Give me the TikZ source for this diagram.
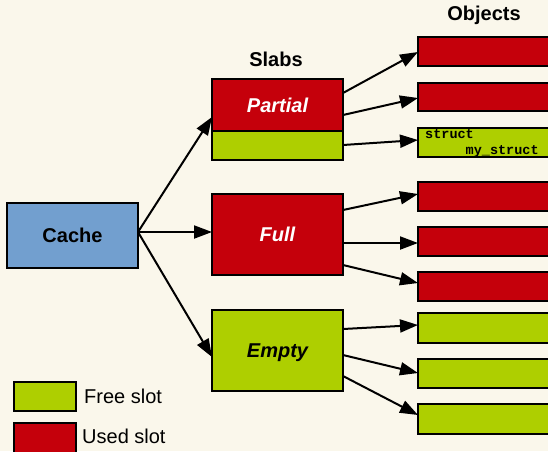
\documentclass[tikz,border=0pt]{standalone}
\usepackage{fontspec}
\setmainfont{Liberation Sans}
\newfontfamily\codefont{Liberation Mono}
\usetikzlibrary{arrows.meta,calc}

\definecolor{bgcream}{HTML}{FAF7EB}
\definecolor{usedred}{HTML}{C5000B}
\definecolor{freegreen}{HTML}{AECF00}
\definecolor{cacheblue}{HTML}{729FCF}

\tikzset{
  box/.style={draw=black, line width=2pt, anchor=north west, inner sep=0pt, outer sep=0pt},
  used/.style={box, fill=usedred},
  free/.style={box, fill=freegreen},
  slabtext/.style={font=\bfseries\itshape\fontsize{20}{24}\selectfont, text depth=0pt, text height=14.5pt},
  heading/.style={font=\bfseries\fontsize{20}{24}\selectfont},
  legendtext/.style={font=\fontsize{20}{24}\selectfont, anchor=west, inner sep=0pt},
  link/.style={draw=black, line width=2pt, -{Triangle[length=18pt,width=13pt]}},
}

\begin{document}
\begin{tikzpicture}[x=1pt,y=-1pt]
  \useasboundingbox (0,0) rectangle (548,451);
  \fill[bgcream] (0,0) rectangle (548,451);
  \clip (0,0) rectangle (548,451);

  % cache
  \node[box, fill=cacheblue, minimum width=131pt, minimum height=65pt,
        font=\bfseries\fontsize{20}{24}\selectfont] (cache) at (7,203) {Cache};

  % slabs
  \node[heading] (slabs) at (276,59) {Slabs};
  \node[used, minimum width=131pt, minimum height=52pt, slabtext, text=white] (partial) at (212,79) {Partial};
  \node[free, minimum width=131pt, minimum height=29pt] (partialfree) at (212,131) {};
  \node[used, minimum width=131pt, minimum height=81pt, slabtext, text=white] (full) at (212,194) {Full};
  \node[free, minimum width=131pt, minimum height=81pt, slabtext] (empty) at (212,310) {Empty};

  % objects
  \node[heading] (objects) at (484,15) {Objects};
  \node[used, minimum width=150pt, minimum height=29pt] (obj1) at (418,37) {};
  \node[used, minimum width=150pt, minimum height=28pt] (obj2) at (418,83) {};
  \node[free, minimum width=150pt, minimum height=29pt] (obj3) at (418,128) {};
  \node[font=\codefont\bfseries\fontsize{13.5}{16}\selectfont, anchor=north west, inner sep=0pt,
        align=left] (structlabel) at (425,129)
        {struct\\\hspace*{5\fontcharwd\font`m}my\_struct};
  \node[used, minimum width=150pt, minimum height=29pt] (obj4) at (418,182) {};
  \node[used, minimum width=150pt, minimum height=29pt] (obj5) at (418,227) {};
  \node[used, minimum width=150pt, minimum height=29pt] (obj6) at (418,272) {};
  \node[free, minimum width=150pt, minimum height=30pt] (obj7) at (418,313) {};
  \node[free, minimum width=150pt, minimum height=29pt] (obj8) at (418,359) {};
  \node[free, minimum width=150pt, minimum height=30pt] (obj9) at (418,404) {};

  % legend
  \node[free, minimum width=62pt, minimum height=29pt] (freekey) at (14,382) {};
  \node[legendtext] (freetext) at (84,396) {Free slot};
  \node[used, minimum width=62pt, minimum height=32pt] (usedkey) at (14,423) {};
  \node[legendtext] (usedtext) at (82,436) {Used slot};

  % cache to slabs
  \draw[link] ($(cache.north east)+(0,29)$) -- ($(partial.north west)+(0,38)$);
  \draw[link] ($(cache.north east)+(0,29)$) -- ($(full.north west)+(0,38)$);
  \draw[link] ($(cache.north east)+(0,29)$) -- ($(empty.north west)+(0,47)$);

  % slabs to objects
  \draw[link] ($(partial.north east)+(0,14)$) -- ($(obj1.north west)+(0,15)$);
  \draw[link] ($(partial.north east)+(0,36)$) -- ($(obj2.north west)+(0,15)$);
  \draw[link] ($(partialfree.north east)+(0,14)$) -- ($(obj3.north west)+(0,12)$);
  \draw[link] ($(full.north east)+(0,16)$) -- ($(obj4.north west)+(0,12)$);
  \draw[link] ($(full.north east)+(0,49)$) -- ($(obj5.north west)+(0,16)$);
  \draw[link] ($(full.north east)+(0,71)$) -- ($(obj6.north west)+(0,11)$);
  \draw[link] ($(empty.north east)+(0,19)$) -- ($(obj7.north west)+(0,12)$);
  \draw[link] ($(empty.north east)+(0,45)$) -- ($(obj8.north west)+(0,14)$);
  \draw[link] ($(empty.north east)+(0,66)$) -- ($(obj9.north west)+(0,11)$);
\end{tikzpicture}
\end{document}
